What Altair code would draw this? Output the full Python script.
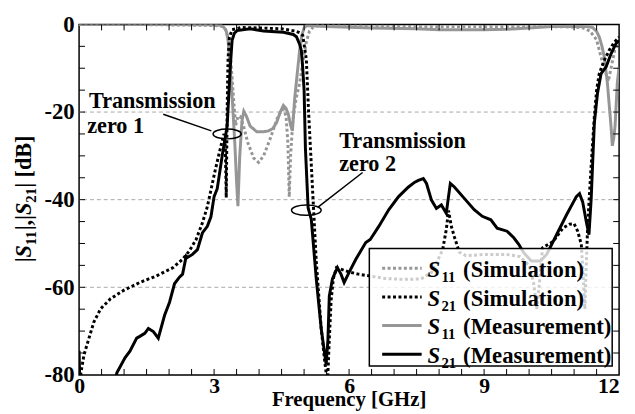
import altair as alt
import pandas as pd

# ---------------- data ----------------
s11_sim_f = [0.0, 1.0, 2.0, 2.8, 3.1, 3.2, 3.26, 3.31, 3.36, 3.40, 3.44, 3.48, 3.53, 3.58, 3.65, 3.75, 3.88, 3.99,
             4.10, 4.25, 4.40, 4.50, 4.55, 4.60, 4.64, 4.67, 4.70, 4.75, 4.82, 4.90, 4.98, 5.05, 5.12, 5.20, 5.30,
             5.60, 6.50, 7.50, 8.50, 9.50, 10.50, 11.00, 11.20, 11.35, 11.50, 11.60, 11.70, 11.76, 11.82, 11.90, 12.00]
s11_sim_db = [0.0, 0.0, -0.1, -0.2, -0.3, -0.5, -1.2, -3.0, -7.0, -12.0, -18.0, -23.0, -21.0, -21.0, -23.0, -27.0, -30.5, -31.5,
              -30.0, -26.0, -21.5, -19.6, -19.4, -21.0, -27.0, -39.4, -30.0, -22.0, -17.0, -13.5, -8.0, -4.0, -1.5, -0.6, -0.3,
              -0.3, -0.4, -0.5, -0.5, -0.5, -0.5, -0.6, -0.8, -1.5, -3.5, -7.5, -11.0, -13.0, -10.0, -6.0, -4.0]

s11_meas_f = [0.0, 1.0, 2.0, 3.0, 3.15, 3.22, 3.27, 3.31, 3.36, 3.41, 3.46, 3.50, 3.53, 3.57, 3.62, 3.66, 3.72, 3.80,
              3.95, 4.10, 4.21, 4.30, 4.39, 4.47, 4.54, 4.60, 4.65, 4.70, 4.74, 4.79, 4.84, 4.90, 4.95, 5.00, 5.05,
              5.15, 5.50, 6.50, 7.50, 8.00, 8.50, 9.00, 9.50, 10.00, 10.50, 11.00, 11.30, 11.41, 11.50, 11.56, 11.62,
              11.67, 11.74, 11.82, 11.85, 11.88, 11.91, 11.96, 12.00]
s11_meas_db = [0.0, 0.0, 0.0, -0.1, -0.2, -0.7, -1.5, -3.5, -10.0, -18.0, -27.0, -36.0, -41.5, -30.0, -22.0, -19.8, -21.0, -23.2,
               -24.5, -24.5, -24.3, -23.8, -22.4, -20.0, -18.5, -19.2, -20.5, -23.0, -24.3, -17.0, -12.0, -6.0, -2.5, -0.8, -0.3,
               -0.3, -0.5, -0.8, -1.0, -1.2, -1.2, -1.2, -1.1, -0.8, -0.5, -0.4, -0.5, -0.7, -1.6, -2.9, -5.0,
               -7.4, -13.4, -23.2, -27.7, -26.0, -23.2, -13.4, -9.7]

s21_sim_f = [0.0, 0.04, 0.11, 0.22, 0.33, 0.48, 0.70, 0.99, 1.35, 1.72, 2.09, 2.30, 2.45, 2.60, 2.74, 2.85, 2.93, 3.02,
             3.10, 3.17, 3.22, 3.25, 3.27, 3.29, 3.31, 3.34, 3.40, 3.60, 4.00, 4.50, 4.80, 4.90, 4.97, 5.05, 5.10, 5.15,
             5.20, 5.27, 5.38, 5.46, 5.52, 5.56, 5.60, 5.65, 5.72, 5.80, 6.00, 6.20, 6.45, 6.80, 7.20, 7.60, 7.83, 7.98,
             8.08, 8.16, 8.21, 8.27, 8.34, 8.45, 8.60, 9.00, 9.50, 9.80, 10.00, 10.10, 10.17, 10.23, 10.30, 10.54, 10.75,
             10.90, 11.00, 11.08, 11.16, 11.20, 11.24, 11.27, 11.30, 11.34, 11.38, 11.45, 11.50, 11.56, 11.67, 11.78,
             11.89, 12.00]
s21_sim_db = [-95.0, -79.5, -75.4, -71.6, -67.9, -64.9, -62.6, -60.7, -58.9, -57.4, -55.5, -53.6, -51.7, -49.1, -45.3, -41.6, -37.8, -33.5,
              -30.0, -27.0, -25.0, -28.0, -39.5, -20.0, -8.0, -3.0, -1.2, -0.7, -0.8, -1.0, -1.5, -1.9, -2.5, -8.0, -20.0, -30.0,
              -40.0, -54.0, -69.4, -77.0, -82.0, -72.0, -63.0, -58.0, -55.5, -55.8, -56.5, -57.0, -57.4, -58.0, -58.2, -58.1, -56.6, -53.6,
              -51.4, -46.8, -42.5, -46.0, -48.5, -52.0, -52.8, -52.5, -52.5, -53.0, -55.0, -59.0, -65.0, -59.0, -51.0, -49.5, -46.5,
              -45.6, -45.5, -47.2, -50.2, -57.0, -65.0, -55.0, -46.5, -39.0, -32.2, -21.0, -15.0, -11.2, -8.2, -5.9,
              -4.1, -2.9]

s21_meas_f = [0.0, 0.03, 0.50, 0.84, 1.02, 1.13, 1.28, 1.35, 1.46, 1.54, 1.65, 1.76, 1.90, 2.01, 2.12, 2.23, 2.30, 2.38,
              2.41, 2.52, 2.63, 2.74, 2.85, 2.93, 3.00, 3.07, 3.18, 3.29, 3.36, 3.40, 3.45, 3.51, 3.80, 4.10, 4.54, 4.76,
              4.83, 4.90, 4.94, 4.97, 5.00, 5.03, 5.09, 5.16, 5.27, 5.38, 5.49, 5.53, 5.56, 5.63, 5.74, 5.82, 5.89, 6.00,
              6.15, 6.37, 6.47, 6.66, 6.88, 7.10, 7.32, 7.46, 7.54, 7.65, 7.72, 7.83, 7.94, 8.05, 8.16, 8.20, 8.25, 8.34,
              8.56, 8.78, 8.96, 9.15, 9.29, 9.51, 9.66, 9.77, 9.88, 10.05, 10.25, 10.39, 10.61, 10.83, 11.05, 11.12,
              11.19, 11.27, 11.33, 11.38, 11.41, 11.45, 11.52, 11.60, 11.71, 11.82, 11.93, 12.00]
s21_meas_db = [-74.5, -88.0, -95.0, -79.5, -76.1, -74.6, -71.6, -71.2, -70.5, -69.4, -70.1, -71.6, -66.4, -63.4, -59.2, -57.7, -57.0, -52.9,
               -53.2, -52.5, -51.4, -47.6, -46.1, -43.9, -39.3, -37.5, -30.0, -23.2, -9.7, -3.6, -2.0, -1.4, -1.0, -1.5, -1.8, -2.3,
               -2.8, -4.5, -6.0, -10.0, -15.0, -28.4, -41.9, -44.5, -58.0, -69.4, -77.6, -72.0, -62.0, -58.1, -55.5, -57.0, -58.9, -56.6,
               -53.6, -49.8, -49.1, -46.1, -42.3, -39.3, -37.1, -36.0, -35.6, -35.2, -36.3, -40.1, -42.0, -41.2, -43.1, -40.0, -36.3, -37.1,
               -39.7, -42.3, -43.8, -44.6, -46.5, -47.2, -48.7, -50.2, -52.1, -54.0, -54.0, -52.5, -48.0, -43.5, -39.3, -38.6,
               -40.5, -45.0, -48.0, -39.7, -32.2, -22.5, -15.7, -11.2, -9.7, -6.7, -4.4, -3.7]

x_tick_labels = [0, 3, 6, 9, 12]
y_tick_labels = [0, -20, -40, -60, -80]
y_grid = [-20, -40, -60]
x_minor = [0.5, 1.0, 1.5, 2.0, 2.5, 3.0, 3.5, 4.0, 4.5, 5.0, 5.5, 6.0, 6.5, 7.0, 7.5, 8.0, 8.5, 9.0, 9.5,
           10.0, 10.5, 11.0, 11.5]
y_minor = [-5, -10, -15, -20, -25, -30, -35, -40, -45, -50, -55, -60, -65, -70, -75]

# annotations (data coordinates)
ann_text = ["Transmission", "zero 1", "Transmission", "zero 2"]
ann_f = [0.22, 0.18, 5.78, 5.78]
ann_db = [-19.1, -24.7, -28.1, -33.35]
ptr_f = [1.87, 6.30]
ptr_db = [-20.5, -33.8]
ptr_f2 = [2.94, 5.31]
ptr_db2 = [-24.3, -41.7]
ell_f = [3.29, 5.05]
ell_db = [-25.0, -42.4]
ell_w = [28.5, 30.0]

legend_desc = ["(Simulation)", "(Simulation)", "(Measurement)", "(Measurement)"]
legend_sub = ["11", "21", "11", "21"]

# ---------------- styling ----------------
FONT = "Liberation Serif"
GRAY = "#969696"
W, H = 547, 355

xscale = alt.Scale(domain=[0, 12], nice=False, zero=False)
yscale = alt.Scale(domain=[-80, 0], nice=False, zero=False)

x_enc = alt.X("f:Q", scale=xscale, axis=alt.Axis(
    values=x_tick_labels, title=None, grid=False, ticks=False, domain=False,
    labelFont=FONT, labelFontSize=22, labelFontWeight="bold", labelColor="black",
    labelPadding=1, labelFlush=False, labelOverlap=False,
    labelAlign={"condition": {"test": "datum.value == 12", "value": "right"}, "value": "center"}))
y_enc = alt.Y("db:Q", scale=yscale, axis=alt.Axis(
    values=y_tick_labels, title=None, grid=False, ticks=False, domain=False,
    labelFont=FONT, labelFontSize=23, labelFontWeight="bold", labelColor="black",
    labelPadding=5, labelOverlap=False, labelExpr="'' + datum.value"))


def sdf(f, db):
    assert len(f) == len(db)
    return pd.DataFrame({"f": f, "db": db})


one = pd.DataFrame({"k": [0]})


def txt(t, x, y, size, italic=False, align="left", angle=0, baseline="alphabetic"):
    kw = dict(text=t, font=FONT, fontSize=size, fontWeight="bold", color="black",
              align=align, baseline=baseline)
    if italic:
        kw["fontStyle"] = "italic"
    if angle:
        kw["angle"] = angle
    return alt.Chart(one).mark_text(**kw).encode(x=alt.value(x), y=alt.value(y))


layers = []

# gridlines
layers.append(alt.Chart(pd.DataFrame({"db": y_grid})).mark_rule(
    color="#a8a8a8", strokeWidth=1, strokeDash=[4, 3]).encode(y=y_enc))

# curves
DOT = [3, 2.5]
layers.append(alt.Chart(sdf(s11_meas_f, s11_meas_db)).mark_line(
    color=GRAY, strokeWidth=3, clip=True).encode(x=x_enc, y=y_enc, order="f:Q"))
layers.append(alt.Chart(sdf(s11_sim_f, s11_sim_db)).mark_line(
    color=GRAY, strokeWidth=3, strokeDash=DOT, clip=True).encode(x=x_enc, y=y_enc, order="f:Q"))
layers.append(alt.Chart(sdf(s21_meas_f, s21_meas_db)).mark_line(
    color="black", strokeWidth=3, clip=True).encode(x=x_enc, y=y_enc, order="f:Q"))
layers.append(alt.Chart(sdf(s21_sim_f, s21_sim_db)).mark_line(
    color="black", strokeWidth=3, strokeDash=DOT, clip=True).encode(x=x_enc, y=y_enc, order="f:Q"))

# inner ticks
xt = pd.DataFrame({"f": x_minor})
yt = pd.DataFrame({"db": y_minor})
tk = dict(color="black", strokeWidth=1)
layers.append(alt.Chart(xt).mark_rule(**tk).encode(x=x_enc, y=alt.value(H), y2=alt.value(H - 6)))
layers.append(alt.Chart(xt).mark_rule(**tk).encode(x=x_enc, y=alt.value(0), y2=alt.value(6)))
layers.append(alt.Chart(yt).mark_rule(**tk).encode(y=y_enc, x=alt.value(0), x2=alt.value(6)))
layers.append(alt.Chart(yt).mark_rule(**tk).encode(y=y_enc, x=alt.value(W), x2=alt.value(W - 6)))

# legend box
layers.append(alt.Chart(one).mark_rect(fill="white", fillOpacity=0.8, stroke="black", strokeWidth=1.5).encode(
    x=alt.value(294), x2=alt.value(540), y=alt.value(227), y2=alt.value(346)))
rows = [247, 276, 305, 334]
sym_styles = [dict(color=GRAY, strokeDash=DOT), dict(color="black", strokeDash=DOT),
              dict(color=GRAY), dict(color="black")]
for r, st, sub, desc in zip(rows, sym_styles, legend_sub, legend_desc):
    layers.append(alt.Chart(one).mark_rule(strokeWidth=3, **st).encode(
        x=alt.value(307), x2=alt.value(347), y=alt.value(r)))
    layers.append(txt("S", 353, r + 9, 23, italic=True))
    layers.append(txt(sub, 367, r + 14, 15))
    layers.append(txt(desc, 389, r + 9, 23))

# annotations
layers.append(alt.Chart(pd.DataFrame({"f": ann_f, "db": ann_db, "t": ann_text})).mark_text(
    font=FONT, fontSize=22.5, fontWeight="bold", color="black", align="left", baseline="alphabetic").encode(
    x=x_enc, y=y_enc, text="t:N"))
layers.append(alt.Chart(pd.DataFrame({"f": ptr_f, "db": ptr_db, "f2": ptr_f2, "db2": ptr_db2})).mark_rule(
    color="black", strokeWidth=1.5).encode(x=x_enc, y=y_enc, x2="f2:Q", y2="db2:Q"))
ELL = ("M -1 0 C -1 -0.193 -0.552 -0.35 0 -0.35 C 0.552 -0.35 1 -0.193 1 0 "
       "C 1 0.193 0.552 0.35 0 0.35 C -0.552 0.35 -1 0.193 -1 0 Z")
layers.append(alt.Chart(pd.DataFrame({"f": ell_f, "db": ell_db, "sz": [w * w for w in ell_w]})).mark_point(
    shape=ELL, filled=False, color="black", strokeWidth=1.5, opacity=1).encode(
    x=x_enc, y=y_enc, size=alt.Size("sz:Q", scale=None, legend=None)))

# axis titles
layers.append(txt("Frequency [GHz]", W / 2, 387, 21, align="center"))
yb = -49
pieces = [("|", False, 22.5, 0, 4.95), ("S", True, 22.5, 0, 12.5), ("11", False, 15, 5, 15.0),
          ("|,|", False, 22.5, 0, 15.5), ("S", True, 22.5, 0, 12.5), ("21", False, 15, 5, 15.0),
          ("| [dB]", False, 22.5, 0, 53.0)]
ypos = 241
for t, it, sz, dx, adv in pieces:
    layers.append(txt(t, yb + dx, ypos, sz, italic=it, angle=270))
    ypos -= adv

chart = alt.layer(*layers).properties(
    width=W, height=H,
    autosize=alt.AutoSizeParams(type="none"),
    padding={"left": 72, "top": 14, "right": 8, "bottom": 40},
).configure_view(stroke="black", strokeWidth=1.5)

chart.save("out.html", embed_options={"renderer": "svg", "actions": False})
